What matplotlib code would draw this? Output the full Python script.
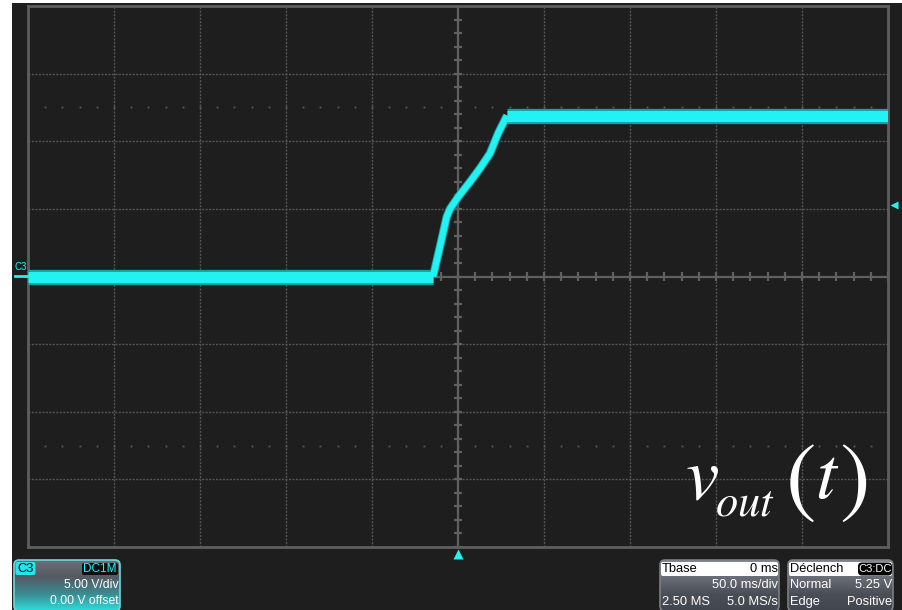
import numpy as np
import matplotlib
matplotlib.use('Agg')
from matplotlib import pyplot as plt
from matplotlib.patches import Rectangle, FancyBboxPatch
from matplotlib.colors import LinearSegmentedColormap

#%% Data (time in ms, voltage in V)
t_low = [-250, -14.5]
v_low = [0.0, 0.0]
t_ramp = [-14.5, -10.5, -6.6, -4.65, 0.2, 7.0, 12.8, 18.6, 23.4, 28.5]
v_ramp = [0.0, 2.2, 4.4, 5.0, 5.9, 7.0, 8.0, 9.1, 10.6, 11.9]
t_high = [28.5, 250]
v_high = [11.9, 11.9]

trig_level = 5.25  # V
volt_div = 5.0     # V/div
time_div = 50.0    # ms/div

left_rows = ['5.00 V/div', '0.00 V offset']
tbase_rows = [('Tbase', '0 ms'), ('', '50.0 ms/div'), ('2.50 MS', '5.0 MS/s')]
trig_rows = [('Déclench', 'C3:DC'), ('Normal', '5.25 V'), ('Edge', 'Positive')]

#%% Config Plot
W, H = 903, 610
BG = '#1e1e1e'
GRID = '#555555'
FRAME = '#5e5e5e'
CYAN = '#22f2f2'
TEAL = '#14a2a6'
plt.rcParams['font.family'] = ['Liberation Sans', 'DejaVu Sans']
plt.rcParams['mathtext.fontset'] = 'stix'

fig = plt.figure(figsize=(W / 100, H / 100), dpi=100, facecolor='white')
fig.patches.append(Rectangle((12 / W, 0), 1, (H - 3) / H, transform=fig.transFigure,
                             facecolor=BG, edgecolor='none', zorder=-10))

ax = fig.add_axes([28 / W, (H - 547) / H, 860 / W, 541 / H], facecolor=BG)
ax.set_xlim(-5 * time_div, 5 * time_div)
ax.set_ylim(-4 * volt_div, 4 * volt_div)
ax.set_xticks([])
ax.set_yticks([])
for sp in ax.spines.values():
    sp.set_color(FRAME)
    sp.set_linewidth(2.0)

#%% Graticule
for i in range(1, 10):
    if i != 5:
        ax.axvline(-250 + i * time_div, color=GRID, lw=1.0, ls=(0, (1.5, 1)), zorder=1)
for j in range(1, 8):
    if j != 4:
        ax.axhline(-20 + j * volt_div, color=GRID, lw=1.0, ls=(0, (1.5, 1)), zorder=1)
ax.axvline(0, color='#606060', lw=1.6, zorder=1)
ax.axhline(0, color='#606060', lw=1.6, zorder=1)

# minor ticks on the centre lines
xt = np.arange(-250, 251, time_div / 5)
yt = np.arange(-20, 20.1, volt_div / 5)
ax.vlines(xt, -0.3, 0.3, color='#606060', lw=1.6, zorder=1)
ax.hlines(yt, -2.3, 2.3, color='#606060', lw=1.6, zorder=1)

# dotted marker rows at +/- 2.5 div
for yy in (2.5 * volt_div, -2.5 * volt_div):
    ax.plot(xt, np.full_like(xt, yy), ls='none', marker='s', ms=1.3,
            color='#5a5a5a', mec='none', zorder=1)

#%% Trace
for tt, vv, w in ((t_low, v_low, 11), (t_ramp, v_ramp, 6), (t_high, v_high, 11)):
    ax.plot(tt, vv, color=TEAL, lw=w, solid_capstyle='butt', solid_joinstyle='round', zorder=3)
for tt, vv, w in ((t_low, v_low, 8), (t_ramp, v_ramp, 4.6), (t_high, v_high, 8)):
    ax.plot(tt, vv, color=CYAN, lw=w, solid_capstyle='butt', solid_joinstyle='round', zorder=4)

# channel / trigger markers
ax.plot([-257.5, -250], [0.05, 0.05], color=CYAN, lw=2, clip_on=False, zorder=5)
ax.text(-258, 0.3, 'C3', color=CYAN, fontsize=7, ha='left', va='bottom', clip_on=False)
ax.plot([253.5], [trig_level], marker='<', ms=6, color=CYAN, mec='none', clip_on=False, zorder=5)
ax.plot([0], [-20.55], marker='^', ms=6.5, color=CYAN, mec='none', clip_on=False, zorder=5)

#%% Label (placed piece by piece)
fig.text(685 / W, (H - 498) / H, r'$v$', color='white', fontsize=54, ha='left', va='baseline')
fig.text(715 / W, (H - 515) / H, r'$out$', color='white', fontsize=32, ha='left', va='baseline')
fig.text(785 / W, (H - 506) / H, r'$($', color='white', fontsize=66, ha='left', va='baseline')
fig.text(815 / W, (H - 498) / H, r'$t$', color='white', fontsize=54, ha='left', va='baseline')
fig.text(839 / W, (H - 506) / H, r'$)$', color='white', fontsize=66, ha='left', va='baseline')

#%% Info boxes
def box_axes(x0, y0, w, h, colors, edge):
    bax = fig.add_axes([x0 / W, (H - y0 - h) / H, w / W, h / H])
    bax.set_xlim(0, w)
    bax.set_ylim(h, 0)
    bax.axis('off')
    cmap = LinearSegmentedColormap.from_list('g', colors)
    grad = np.linspace(0, 1, 64).reshape(-1, 1)
    im = bax.imshow(grad, cmap=cmap, extent=[0, w, h, 0], aspect='auto', zorder=0)
    clip = FancyBboxPatch((1, 1), w - 2, h - 2, boxstyle='round,pad=0,rounding_size=5',
                          transform=bax.transData, facecolor='none', edgecolor=edge, lw=1.2, zorder=1)
    bax.add_patch(clip)
    im.set_clip_path(clip)
    return bax

FS = 8.8
# channel box
lb = box_axes(13, 559, 108, 53, ['#6c707a', '#555a62', '#3a8c92', '#30e0e0'], '#6fd8da')
lb.add_patch(FancyBboxPatch((2.5, 3), 20, 13, boxstyle='round,pad=0,rounding_size=2',
                            facecolor='#28e4e8', edgecolor='none', zorder=2))
lb.text(12.5, 10, 'C3', color='black', fontsize=FS + 0.5, ha='center', va='center', zorder=3)
lb.add_patch(FancyBboxPatch((69, 4), 36, 12, boxstyle='round,pad=0,rounding_size=2',
                            facecolor='#101010', edgecolor='none', zorder=2))
lb.text(87, 10.3, 'DC1M', color=CYAN, fontsize=FS - 0.3, ha='center', va='center', zorder=3)
lb.text(106, 25.5, left_rows[0], color='white', fontsize=FS, ha='right', va='center', zorder=3)
lb.text(106, 42, left_rows[1], color='white', fontsize=FS, ha='right', va='center', zorder=3)

# time base and trigger boxes
for x0, w, rows in ((659, 121, tbase_rows), (787, 107, trig_rows)):
    bx = box_axes(x0, 559, w, 53, ['#8a8d94', '#6a6e76', '#4a4e56', '#42464e'], '#7a7e86')
    bx.add_patch(FancyBboxPatch((2, 3), w - 4, 14, boxstyle='round,pad=0,rounding_size=2',
                                facecolor='white', edgecolor='none', zorder=2))
    for k, (lt, rt) in enumerate(rows):
        yy = [10, 25.5, 43][k]
        col = 'black' if k == 0 else 'white'
        if lt:
            bx.text(3, yy, lt, color=col, fontsize=FS + 0.5, ha='left', va='center', zorder=3)
        if k == 0 and rt == 'C3:DC':
            bx.add_patch(FancyBboxPatch((w - 36, 3.5), 34, 13, boxstyle='round,pad=0,rounding_size=4',
                                        facecolor='black', edgecolor='none', zorder=3))
            bx.text(w - 19, 10.3, rt, color='white', fontsize=FS - 0.8, ha='center', va='center', zorder=4)
        else:
            bx.text(w - 2, yy, rt, color=col, fontsize=FS + 0.5, ha='right', va='center', zorder=3)

fig.savefig('out.png', dpi=100, facecolor=fig.get_facecolor())
